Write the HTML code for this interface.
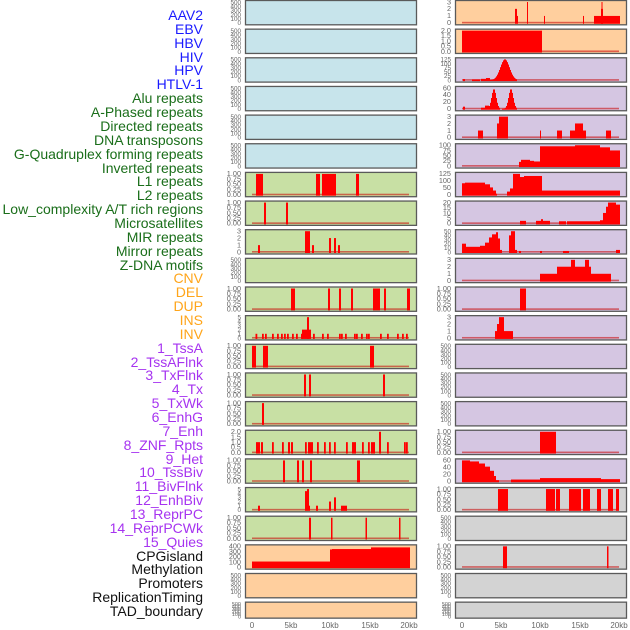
<!DOCTYPE html>
<html><head><meta charset="utf-8"><style>
body{margin:0;background:#fff;width:630px;height:630px;overflow:hidden;position:relative;font-family:"Liberation Sans",sans-serif}
#lab{position:absolute;left:0;top:0;width:203px}
#lab div{position:absolute;right:0;white-space:nowrap;font-size:14px;line-height:14px}
svg{position:absolute;left:0;top:0}
</style></head><body>
<div id="lab">
<div style="top:8px;color:#1a1aff">AAV2</div>
<div style="top:21.9px;color:#1a1aff">EBV</div>
<div style="top:35.7px;color:#1a1aff">HBV</div>
<div style="top:49.6px;color:#1a1aff">HIV</div>
<div style="top:63.4px;color:#1a1aff">HPV</div>
<div style="top:77.3px;color:#1a1aff">HTLV-1</div>
<div style="top:91.2px;color:#1a6e1a">Alu repeats</div>
<div style="top:105px;color:#1a6e1a">A-Phased repeats</div>
<div style="top:118.9px;color:#1a6e1a">Directed repeats</div>
<div style="top:132.7px;color:#1a6e1a">DNA transposons</div>
<div style="top:146.6px;color:#1a6e1a">G-Quadruplex forming repeats</div>
<div style="top:160.5px;color:#1a6e1a">Inverted repeats</div>
<div style="top:174.3px;color:#1a6e1a">L1 repeats</div>
<div style="top:188.2px;color:#1a6e1a">L2 repeats</div>
<div style="top:202px;color:#1a6e1a">Low_complexity A/T rich regions</div>
<div style="top:215.9px;color:#1a6e1a">Microsatellites</div>
<div style="top:229.8px;color:#1a6e1a">MIR repeats</div>
<div style="top:243.6px;color:#1a6e1a">Mirror repeats</div>
<div style="top:257.5px;color:#1a6e1a">Z-DNA motifs</div>
<div style="top:271.3px;color:#ffa51a">CNV</div>
<div style="top:285.2px;color:#ffa51a">DEL</div>
<div style="top:299px;color:#ffa51a">DUP</div>
<div style="top:312.9px;color:#ffa51a">INS</div>
<div style="top:326.8px;color:#ffa51a">INV</div>
<div style="top:340.6px;color:#a633f0">1_TssA</div>
<div style="top:354.5px;color:#a633f0">2_TssAFlnk</div>
<div style="top:368.3px;color:#a633f0">3_TxFlnk</div>
<div style="top:382.2px;color:#a633f0">4_Tx</div>
<div style="top:396.1px;color:#a633f0">5_TxWk</div>
<div style="top:409.9px;color:#a633f0">6_EnhG</div>
<div style="top:423.8px;color:#a633f0">7_Enh</div>
<div style="top:437.6px;color:#a633f0">8_ZNF_Rpts</div>
<div style="top:451.5px;color:#a633f0">9_Het</div>
<div style="top:465.4px;color:#a633f0">10_TssBiv</div>
<div style="top:479.2px;color:#a633f0">11_BivFlnk</div>
<div style="top:493.1px;color:#a633f0">12_EnhBiv</div>
<div style="top:506.9px;color:#a633f0">13_ReprPC</div>
<div style="top:520.8px;color:#a633f0">14_ReprPCWk</div>
<div style="top:534.7px;color:#a633f0">15_Quies</div>
<div style="top:548.5px;color:#111">CPGisland</div>
<div style="top:562.4px;color:#111">Methylation</div>
<div style="top:576.2px;color:#111">Promoters</div>
<div style="top:590.1px;color:#111">ReplicationTiming</div>
<div style="top:603.9px;color:#111">TAD_boundary</div>
</div>
<svg id="s" width="630" height="630" xmlns="http://www.w3.org/2000/svg">
<g font-family="Liberation Sans, sans-serif" font-size="8" fill="#666" text-anchor="middle">
<text x="252" y="628">0</text><text x="291" y="628">5kb</text><text x="330" y="628">10kb</text><text x="370" y="628">15kb</text><text x="409" y="628">20kb</text>
<text x="462" y="628">0</text><text x="501" y="628">5kb</text><text x="540" y="628">10kb</text><text x="580" y="628">15kb</text><text x="619" y="628">20kb</text>
</g>
</svg>
<script>
var NS="http://www.w3.org/2000/svg",S=document.getElementById('s');
function el(t,a,txt){var e=document.createElementNS(NS,t);for(var k in a)e.setAttribute(k,a[k]);if(txt!==undefined)e.textContent=txt;S.appendChild(e);return e;}
var C={b:'#c7e4eb',g:'#c8e0a4',o:'#ffcf9e',p:'#d5c6e2',y:'#d3d3d3'};
var E=['0','100','200','300','400','500'],B=['0.00','0.25','0.50','0.75','1.00'];
var L3=['0','1','2','3'],L5=['0','1','2','3','4','5'];
function gauss(c,w,a,b,h){var r=[];for(var x=a;x<b;x++){r.push([x,x+1,h*Math.exp(-Math.pow((x+0.5-c)/w,2))]);}return r;}
var left=[
['b',E,null],['b',E,null],['b',E,null],['b',E,null],['b',E,null],['b',E,null],
['g',B,[[256,263,1],[316,320,1],[322,336,1],[356,359,1]]],
['g',B,[[264,266,1],[286,288,1]]],
['g',L3,[[258,260,.33],[305,310,1],[312,314,.33],[329,331,.67],[334,336,.67],[338,340,.33]]],
['g',E,null],
['g',B,[[291,295,1],[328,330,1],[339,341,1],[351,353,1],[373,380,1],[384,386,1],[407,410,1]]],
['g',L5,(function(){var xs=[255.5,262,265,272,277,281,284,287,292,296,301,313,322,327,339,341,345,354,356,361,366,368,380,387,397,402,406];var r=xs.map(function(x){return[x,x+1.8,.2]});r.push([302,311,.4],[307,309,1]);return r;})()],
['g',B,[[252,256,1],[263,268,1],[370,374,1]]],
['g',B,[[304,306,1],[309,311,1],[383,385,1]]],
['g',B,[[262,264,1]]],
['g',['0.0','0.5','1.0','1.5','2.0'],(function(){var r=[[256,260,.5],[261,263,.5],[288,290,.5],[291,293,.5],[308,313,.5],[352,356,.5],[371,375,.5],[379,381,1]];[272,282,305,317,324,329,334,346,362,368,387,404,406].forEach(function(x){r.push([x,x+1.8,.5])});return r;})()],
['g',B,[[283,285,1],[297,299,1],[302,304,1],[310,312,1],[357,360,1]]],
['g',L5,[[258,260,.2],[305,307,.9],[307,309,1],[309,310,.2],[316,318,.2],[329,331,.4],[334,336,.6],[341,347,.2]]],
['g',B,[[309,311,1],[331,332.5,1],[365.5,367,1],[399,400.5,1]]],
['o',['0','100','200','300','400'],[[252,330,.27],[330,332,.85],[332,371,.87],[371,410,.95]]],
['o',E,null],['o',E,null]];
var right=[
['o',L3,[[515,517,.67],[517,518,.33],[527,528,1],[544,545,.33],[583,584,.33],[594,620,.33],[601,603,.67],[601.5,602.5,1]]],
['o',['0.0','0.5','1.0','1.5','2.0'],[[462,542,1]]],
['p',['0','25','50','75','100','125'],[[463,465,.05],[472,480,.03],[481,486,.06],[486,490,.1]].concat(gauss(505,6.5,490,517,1))],
['p',['0','20','40','60'],[[463,465,.1],[481,485,.05],[485,489,.15]].concat(gauss(494,3.2,489,500,.95),gauss(511,3.2,502,517,.95))],
['p',L3,[[478,483,.33],[497,499,.67],[499,508,1],[540,541,.33],[557,562,.33],[570,575,.33],[575,583,.67],[583,586,.33],[606,611,.33]]],
['p',['0','25','50','75','100'],[[519,521,.2],[521,530,.3],[530,534,.25],[534,540,.22],[540,575,.95],[575,600,1],[600,610,.9],[610,620,.75]]],
['p',['0','50','100','125'],[[462,465,.55],[465,485,.58],[485,490,.5],[490,493,.35],[493,496,.2],[496,497,.05],[507,510,.15],[510,513,.3],[513,520,1],[520,524,.85],[524,542,.9],[542,620,.2]]],
['p',['0','5','10','15','20'],[[520,526,.12],[536,541,.12],[541,543,.2],[543,550,.12],[559,566,.1],[567,620,.1],[600,603,.15],[603,606,.5],[606,608,.8],[608,616,1],[616,620,.9]]],
['p',['0','10','20','30','40','50'],[[462,466,.4],[466,480,.25],[480,485,.3],[485,489,.45],[489,492,.7],[492,496,.85],[496,498,.95],[498,500,.65],[500,502,.1],[509,511,.8],[511,515,1],[515,517,.1],[519,521,.05],[540,542,.05],[563,569,.05],[616,620,.1]]],
['p',L3,[[540,557,.33],[557,571,.67],[571,575,1],[575,585,.67],[585,589,1],[589,591,.67],[591,611,.33]]],
['p',B,[[520,526,1]]],
['p',L3,[[495,497,.33],[497,499,.67],[499,504,1],[504,513,.33]]],
['p',E,null],['p',E,null],['p',E,null],
['p',B,[[540,556,1]]],
['p',['0','20','40','60'],[[462,470,1],[470,479,.95],[479,485,.85],[485,490,.7],[490,494,.5],[494,496,.25],[496,499,.05],[511,540,.08],[540,601,.15],[601,620,.1]]],
['y',B,[[498,508,1],[546,555,1],[556,560,1],[569,581,1],[583,590,1],[597,601,1],[608,613,1],[616,619,1]]],
['y',E,null],
['y',B,[[503,507,1],[607,608.5,1]]],
['y',E,null],['y',E,null]];
function panel(i,d,px,x0,tx){
 var T=i*28.65+0.5,H=(i==21?16:24.3);
 el('rect',{x:px,y:T,width:171,height:H,fill:C[d[0]]});
 var z=T+H-2,top=T+1.5,span=z-top;
 if(d[2]){
  el('rect',{x:x0,y:z-1,width:157,height:1.6,fill:'rgba(200,0,0,0.55)'});
  d[2].forEach(function(b){var h=b[2]*span;el('rect',{x:b[0],y:z-h,width:b[1]-b[0],height:h+1,fill:'#f00'});});
 }
 el('rect',{x:px,y:T,width:171,height:H,fill:'none',stroke:'#5a5a5a','stroke-width':1.3});
 var t=d[1],n=t.length-1;
 t.forEach(function(s,k){var y=z-span*k/n+2.3;el('text',{x:tx,y:y,'font-size':(i==21?5.5:(n>4?6.3:7.3)),fill:'#666','text-anchor':'end','font-family':'Liberation Sans, sans-serif'},s);});
}
left.forEach(function(d,i){panel(i,d,245.5,252,241);});
right.forEach(function(d,i){panel(i,d,455.5,462,451);});
</script>
</body></html>
